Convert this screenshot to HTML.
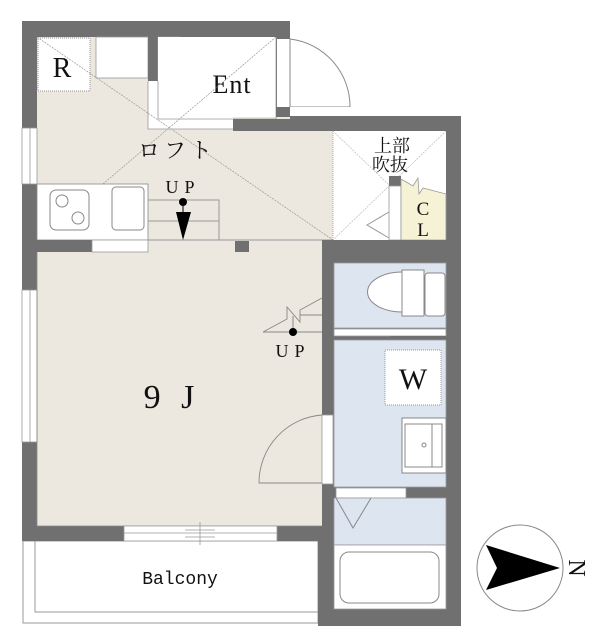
<!DOCTYPE html>
<html><head><meta charset="utf-8"><style>
html,body{margin:0;padding:0;background:#fff;}
svg{display:block;}
text{font-family:"Liberation Serif","Noto Serif CJK SC",serif;fill:#111;}
</style></head><body>
<svg width="611" height="640" viewBox="0 0 611 640" xmlns="http://www.w3.org/2000/svg">
<!-- balcony -->
<rect x="23" y="541" width="295" height="82" fill="#fff" stroke="#999" stroke-width="1"/>
<rect x="35" y="541" width="283" height="71" fill="#fff" stroke="#999" stroke-width="1"/>
<text x="180" y="584" font-size="18" text-anchor="middle" style="font-family:'Liberation Mono',monospace">Balcony</text>

<!-- walls base -->
<path d="M22 21 H290 V116 H461 V626 H318 V541 H22 Z" fill="#707070"/>

<!-- floors -->
<rect x="37" y="37" width="239" height="80" fill="#ece8df"/>
<rect x="37" y="116" width="296" height="124" fill="#ece8df"/>
<rect x="148" y="239" width="174" height="14" fill="#ece8df"/>
<rect x="37" y="252" width="285" height="274" fill="#ece8df"/>
<!-- R -->
<rect x="38" y="38" width="52" height="53" fill="#fff" stroke="#999" stroke-dasharray="1,1"/>
<text x="62" y="77" font-size="28" text-anchor="middle">R</text>
<rect x="96" y="37" width="52" height="41" fill="#fff" stroke="#999" stroke-width="0.8"/>
<!-- SB -->
<rect x="148" y="37" width="10" height="44" fill="#707070"/>
<rect x="158" y="37" width="22" height="43" fill="#f6f2d6" stroke="#999" stroke-width="0.8"/>
<text x="169" y="54" font-size="15" text-anchor="middle">S</text>
<text x="169" y="75" font-size="15" text-anchor="middle">B</text>
<!-- Ent -->
<path d="M148 81 H158 V37 H276 V117 H233 V129 H148 Z" fill="#fff"/>
<path d="M148 81 V129 H233 M158 81 V119 H276 V37" fill="none" stroke="#999" stroke-width="0.8"/>
<text x="232" y="93" font-size="26" text-anchor="middle" letter-spacing="1">Ent</text>
<rect x="233" y="119" width="57" height="12" fill="#707070"/>
<!-- entry door -->
<rect x="277" y="39" width="13" height="68" fill="#fff"/>
<path d="M290 39 V107 H350 A68 68 0 0 0 290 39" fill="#fff" stroke="#888" stroke-width="1"/>
<rect x="290" y="107" width="171" height="9" fill="#fff"/>
<rect x="276" y="107" width="14" height="10" fill="#707070"/>
<rect x="290" y="116" width="171" height="15" fill="#707070"/>
<!-- 吹抜 -->
<rect x="333" y="131" width="113" height="109" fill="#fff"/>
<line x1="333" y1="131" x2="333" y2="240" stroke="#aaa" stroke-dasharray="1,1"/>
<line x1="333" y1="131" x2="446" y2="240" stroke="#bbb" stroke-dasharray="2,1" stroke-width="0.7"/>
<line x1="446" y1="131" x2="333" y2="240" stroke="#bbb" stroke-dasharray="2,1" stroke-width="0.7"/>
<text x="392" y="152" font-size="18" text-anchor="middle">上部</text>
<text x="390" y="171" font-size="18" text-anchor="middle">吹抜</text>
<rect x="389" y="176" width="12" height="10" fill="#707070"/>
<rect x="389" y="186" width="12" height="54" fill="#fff" stroke="#999" stroke-width="0.8"/>
<path d="M389 212 L367 225 L389 238" fill="none" stroke="#999"/>
<path d="M401 179 L413 186 L418 178 L419 194 L423 188 L446 194 V240 H401 Z" fill="#f6f2d6" stroke="#999" stroke-width="0.8"/>
<text x="423" y="215" font-size="19" text-anchor="middle">C</text>
<text x="423" y="236" font-size="19" text-anchor="middle">L</text>
<!-- loft diagonals -->
<line x1="37" y1="37" x2="333" y2="240" stroke="#999" stroke-dasharray="2,1" stroke-width="0.7"/>
<line x1="276" y1="37" x2="37" y2="240" stroke="#999" stroke-dasharray="2,1" stroke-width="0.7"/>
<text x="177" y="158" font-size="22" text-anchor="middle" letter-spacing="4">ロフト</text>
<!-- kitchen -->
<rect x="37" y="184" width="111" height="56" fill="#fff" stroke="#888" stroke-width="0.8"/>
<rect x="50" y="190" width="39" height="40" rx="6" fill="#fff" stroke="#888"/>
<circle cx="62" cy="201" r="6" fill="none" stroke="#888"/>
<circle cx="78" cy="218" r="6" fill="none" stroke="#888"/>
<rect x="112" y="187" width="32" height="43" rx="4" fill="#fff" stroke="#888"/>
<!-- stairs -->
<path d="M148 200 H219 V240 M148 221 H219" fill="none" stroke="#999"/>
<line x1="37" y1="240" x2="333" y2="240" stroke="#999"/>
<text x="183" y="193" font-size="18" text-anchor="middle" letter-spacing="6">UP</text>
<circle cx="183" cy="202" r="4" fill="#000"/>
<line x1="183" y1="202" x2="183" y2="214" stroke="#000"/>
<path d="M176 212 H191 L183 240 Z" fill="#000"/>
<!-- wall between -->
<rect x="22" y="240" width="70" height="12" fill="#707070"/>
<rect x="92" y="240" width="56" height="12" fill="#fff" stroke="#999" stroke-width="0.8"/>
<rect x="235" y="241" width="14" height="11" fill="#707070"/>
<rect x="322" y="240" width="124" height="12" fill="#707070"/>
<!-- left windows -->
<rect x="22" y="128" width="15" height="56" fill="#fff" stroke="#999" stroke-width="0.8"/>
<line x1="30" y1="128" x2="30" y2="184" stroke="#999" stroke-width="0.8"/>
<rect x="22" y="290" width="15" height="152" fill="#fff" stroke="#999" stroke-width="0.8"/>
<line x1="30" y1="290" x2="30" y2="442" stroke="#999" stroke-width="0.8"/>
<!-- main room -->
<path d="M37 252 V526 H322" fill="none" stroke="#888" stroke-width="0.8"/>
<text x="172" y="408" font-size="34" text-anchor="middle" letter-spacing="6">9 J</text>
<!-- bottom window -->
<rect x="124" y="526" width="153" height="15" fill="#fff" stroke="#999" stroke-width="0.8"/>
<path d="M124 533 H277 M185 530 H215 M185 537 H215 M200 522 V545" fill="none" stroke="#999" stroke-width="0.8"/>
<!-- UP break symbol -->
<path d="M263 332 L287 319 V307 L300 322 V310 L322 298 M300 315 H322 M263 332 H322" fill="none" stroke="#888" stroke-width="0.9"/>
<line x1="293" y1="316" x2="293" y2="332" stroke="#888"/>
<circle cx="293" cy="332" r="4" fill="#000"/>
<text x="293" y="357" font-size="18" text-anchor="middle" letter-spacing="6">UP</text>
<!-- room door -->
<rect x="322" y="415" width="11" height="69" fill="#fff" stroke="#999" stroke-width="0.8"/>
<path d="M322 415 A68 68 0 0 0 259 483 H322" fill="none" stroke="#888" stroke-width="0.9"/>
<!-- toilet -->
<rect x="334" y="263" width="112" height="65" fill="#dde5f1" stroke="#999" stroke-width="0.8"/>
<path d="M402 272 A31 18 0 0 0 402 312 H412 V272 Z" fill="#fff" stroke="#888"/>
<rect x="402" y="270" width="22" height="46" fill="#fff" stroke="#888"/>
<rect x="425" y="273" width="20" height="43" rx="3" fill="#fff" stroke="#888"/>
<rect x="334" y="329" width="112" height="7" fill="#fff" stroke="#999" stroke-width="0.8"/>
<rect x="390" y="336" width="56" height="4" fill="#707070"/>
<!-- washroom -->
<rect x="334" y="340" width="112" height="147" fill="#dde5f1" stroke="#999" stroke-width="0.8"/>
<rect x="385" y="350" width="56" height="55" fill="#fff" stroke="#999" stroke-dasharray="1,1"/>
<text x="413" y="389" font-size="30" text-anchor="middle">W</text>
<rect x="402" y="418" width="44" height="55" fill="#fff" stroke="#888"/>
<rect x="405" y="424" width="37" height="43" fill="#fff" stroke="#888"/>
<line x1="432" y1="424" x2="432" y2="467" stroke="#888"/>
<circle cx="424" cy="445" r="2" fill="none" stroke="#888"/>
<rect x="336" y="488" width="70" height="10" fill="#fff" stroke="#999" stroke-width="0.8"/>
<!-- bath -->
<rect x="334" y="498" width="112" height="47" fill="#dde5f1" stroke="#999" stroke-width="0.8"/>
<path d="M336 498 L353 528 L371 498" fill="none" stroke="#888"/>
<rect x="334" y="545" width="112" height="64" fill="#fff" stroke="#999" stroke-width="0.8"/>
<rect x="340" y="552" width="99" height="51" rx="9" fill="#fff" stroke="#888"/>
<!-- compass -->
<circle cx="520" cy="568" r="43" fill="#fff" stroke="#888"/>
<path d="M486 545 L560 568 L486 590 L497 568 Z" fill="#000"/>
<text x="0" y="0" font-size="24" transform="translate(567,568) rotate(90)" text-anchor="middle" dy="-2">N</text>
</svg>
</body></html>
